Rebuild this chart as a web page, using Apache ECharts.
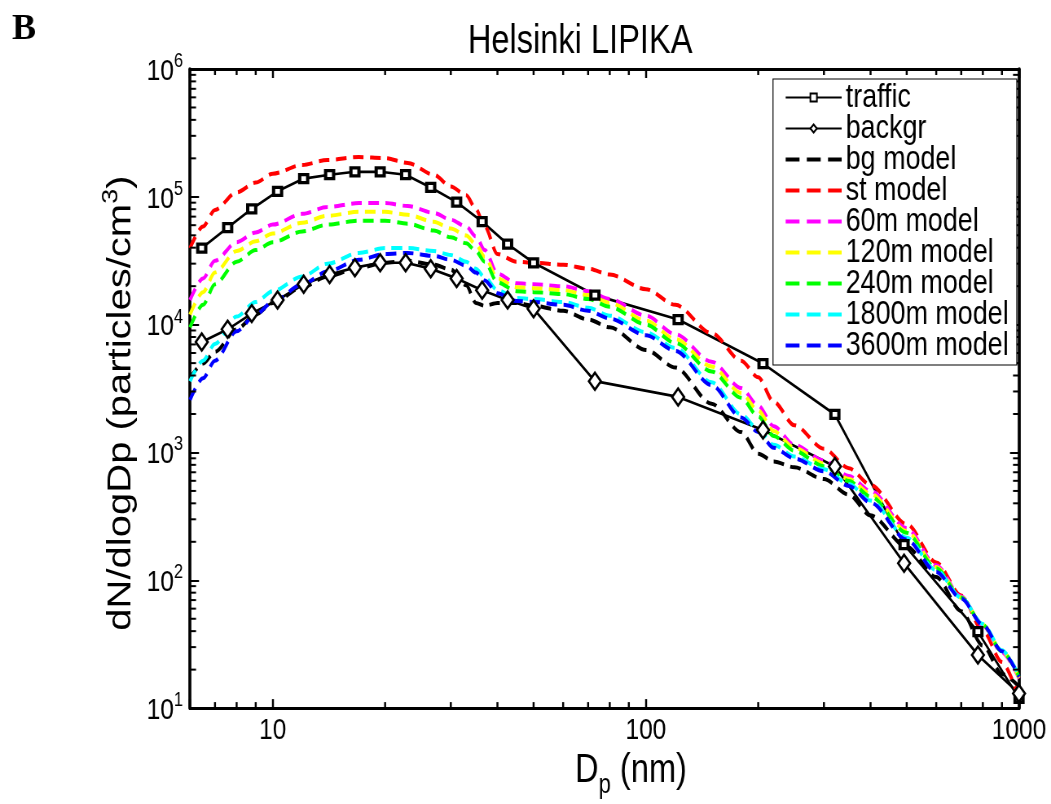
<!DOCTYPE html>
<html>
<head>
<meta charset="utf-8">
<script src="https://cdn.jsdelivr.net/npm/echarts@6/dist/echarts.min.js"></script>
<style>
html,body{margin:0;padding:0;background:#fff;width:1051px;height:804px;overflow:hidden}
#c{width:1290px;height:804px;transform:scaleX(0.81473);transform-origin:0 0}
</style>
</head>
<body>
<div id="c"></div>
<script>
// ---- measured data (diameter in nm, dN/dlogDp in particles/cm3) ----
const dpMeas  = [6.45, 7.57, 8.78, 10.3, 12.1, 14.2, 16.6, 19.4, 22.7, 26.5, 31.1, 36.4, 42.6, 50.0, 73.0, 122, 206, 321, 492, 776, 1000];
const traffic = [39700, 57490, 80350, 110400, 138800, 148900, 157000, 157000, 148900, 118400, 90910, 63900, 42590, 30480, 17030, 10960, 4958, 1982, 190, 39.6, 11.9];
const backgr  = [7310, 9190, 12200, 15600, 20700, 24700, 27900, 30500, 30500, 27400, 23000, 18600, 15600, 13300, 3610, 2720, 1500, 778, 136, 26, 13];

// ---- model curves ----
const dpModel = [6, 6.5, 7, 8, 9, 10, 12, 14, 17, 20, 23, 27, 30, 33, 35, 37, 40, 45, 50, 60, 70, 80, 100, 120, 150, 180, 200, 220, 250, 300, 350, 400, 500, 600, 700, 800, 900, 1000];
const bgModel = [3805, 4958, 6126, 9189, 11970, 14790, 19610, 23810, 27900, 30480, 31570, 29420, 26940, 20320, 14790, 14030, 14790, 14790, 14030, 12840, 10960, 9520, 6346, 4618, 2406, 1443, 979, 850, 765, 619, 467, 322, 183, 106, 57.3, 30.9, 18.5, 14.7];
const stModel = [39700, 58510, 78970, 108400, 129300, 151600, 177700, 194100, 204600, 201000, 184000, 148900, 120600, 102900, 80350, 58510, 35710, 31020, 30480, 29420, 27420, 24660, 18940, 14280, 8564, 5226, 3873, 2492, 1633, 1069, 752, 557, 275, 138, 76, 40.3, 22.9, 11.9];
const m60     = [15590, 22980, 31570, 44130, 52630, 60600, 73600, 83260, 89330, 89330, 84720, 74900, 66200, 58510, 49060, 38320, 25100, 21040, 20680, 19960, 18280, 15870, 11760, 8414, 5135, 3190, 2323, 1604, 1147, 865, 653, 501, 256, 131, 74.6, 44, 27.3, 17];
const m120    = [11970, 17960, 25550, 37650, 44920, 51710, 62810, 71030, 76250, 76250, 72310, 63900, 56480, 49920, 42590, 33880, 22980, 19610, 19270, 18600, 17030, 14790, 10770, 7702, 4700, 2921, 2127, 1469, 1088, 821, 619, 475, 243, 127, 73.3, 44.8, 27.8, 17.3];
const m240    = [9520, 14280, 20680, 31020, 38320, 44130, 53560, 60600, 65050, 65050, 61690, 54530, 48190, 43370, 37650, 31020, 21420, 18280, 17960, 17340, 15870, 13790, 10030, 7178, 4305, 2674, 1913, 1345, 1032, 779, 598, 451, 235, 124, 73.3, 44.8, 27.8, 17.6];
const m1800   = [3609, 5226, 7054, 11560, 15050, 18280, 23810, 29940, 36350, 39700, 39700, 37650, 35100, 31020, 27420, 23400, 18600, 16160, 15870, 15050, 13540, 11760, 8717, 6575, 3546, 1982, 1521, 1147, 929, 738, 567, 420, 215, 120, 73.3, 45.5, 28.3, 17.9];
const m3600   = [2581, 3805, 5226, 8869, 11970, 15050, 20680, 26000, 32130, 35710, 36350, 34480, 32130, 28900, 25550, 22190, 17640, 15320, 15050, 14280, 12840, 11160, 8267, 6235, 3364, 1879, 1443, 1088, 897, 713, 547, 405, 208, 116, 72, 44.8, 27.8, 17.6];

const seriesNames = ['traffic', 'backgr', 'bg model', 'st model', '60m model', '120m model', '240m model', '1800m model', '3600m model'];
const xTickLabels = ['10', '100', '1000'];
const yTickExponents = ['1', '2', '3', '4', '5', '6'];

const X_MIN = 6, X_MAX = 1000, Y_MIN = 10, Y_MAX = 1e6;

// The page is drawn 1290 px wide and squeezed horizontally to 1051 px (like the
// reference, whose lettering is horizontally compressed); S converts screen px.
const S = 0.81473;
const FONT = "'Liberation Sans',Arial,Helvetica,sans-serif";

function pairs(xs, ys) { return xs.map((x, i) => [x, ys[i]]); }
function isDecade(v) { const e = Math.log10(v); return Math.abs(e - Math.round(e)) < 1e-6; }

// minor tick positions (2..9 within each decade)
const minorX = [];
[1, 10, 100].forEach(d => { for (let k = 2; k <= 9; k++) { const v = k * d; if (v > X_MIN && v < X_MAX) minorX.push([v, Y_MIN]); } });
const minorY = [];
[10, 100, 1000, 10000, 100000].forEach(d => { for (let k = 2; k <= 9; k++) minorY.push([X_MIN, k * d]); });

function measSeries(name, data, symbol, size, bw) {
  return {
    name, type: 'line', data: pairs(dpMeas, data), symbol, symbolSize: size, showSymbol: true,
    lineStyle: { color: '#000', width: 2.7 },
    itemStyle: { color: '#fff', borderColor: '#000', borderWidth: bw },
    emphasis: { disabled: true }, z: 3
  };
}
function modelSeries(name, data, color) {
  return {
    name, type: 'line', data: pairs(dpModel, data), symbol: 'none', showSymbol: false,
    smooth: 0.3, smoothMonotone: 'x',
    lineStyle: { color, width: 4, type: [13, 8] },
    itemStyle: { color },
    emphasis: { disabled: true }, z: 3
  };
}

const legendData = seriesNames.map((n, i) => i < 2 ? { name: n } : { name: n, itemStyle: { opacity: 0 }, lineStyle: { type: [17, 9], width: 4 } });

const xTick = { color: '#000', width: 2 / S };
const yTick = { color: '#000', width: 2 };

const chart = echarts.init(document.getElementById('c'), null, { renderer: 'canvas' });
chart.setOption({
  animation: false,
  backgroundColor: '#fff',
  title: [
    { text: 'Helsinki LIPIKA', left: 576 / S, top: 17, textAlign: 'center', textStyle: { fontFamily: FONT, fontWeight: 'normal', fontSize: 40, color: '#000' } }
  ],
  graphic: [
    { type: 'text', x: 12 / S, y: 12, scaleX: 1 / S, style: { text: 'B', fontFamily: "'Liberation Serif','Times New Roman',serif", fontWeight: 'bold', fontSize: 36, fill: '#000', verticalAlign: 'top' } }
  ],
  legend: {
    data: legendData, orient: 'vertical', left: 773 / S, top: 79,
    itemWidth: 56 / S, itemHeight: 10, itemGap: -2,
    padding: [2, 10, 3, 11 / S],
    borderColor: '#000', borderWidth: 1.2, backgroundColor: '#fff',
    selectedMode: false,
    textStyle: { fontFamily: FONT, fontSize: 33, color: '#000', lineHeight: 31 },
    z: 10
  },
  grid: { left: 190 / S, right: 32 / S, top: 69, bottom: 82, containLabel: false },
  xAxis: [
    {
      type: 'log', logBase: 10, min: X_MIN, max: X_MAX, position: 'bottom',
      axisLine: { show: true, onZero: false, lineStyle: { color: '#000', width: 3 } },
      axisTick: { inside: true, length: 9, lineStyle: xTick },
      splitLine: { show: false },
      axisLabel: {
        color: '#000', fontFamily: FONT, fontSize: 30, margin: 8,
        formatter: v => { if (!isDecade(v)) return ''; const s = String(Math.round(v)); return xTickLabels.includes(s) ? s : ''; }
      },
      name: '{a|D}{p|p}{a| (nm)}', nameLocation: 'middle', nameGap: 30,
      nameTextStyle: {
        padding: [0, 0, 0, 65],
        rich: {
          a: { fontFamily: FONT, fontSize: 40, color: '#000', verticalAlign: 'top', lineHeight: 42 },
          p: { fontFamily: FONT, fontSize: 27, color: '#000', verticalAlign: 'top', padding: [21, 0, 0, 0] }
        }
      }
    },
    {
      type: 'log', logBase: 10, min: X_MIN, max: X_MAX, position: 'top',
      axisLine: { show: true, onZero: false, lineStyle: { color: '#000', width: 3 } },
      axisTick: { inside: true, length: 9, lineStyle: xTick },
      splitLine: { show: false }, axisLabel: { show: false }
    }
  ],
  yAxis: [
    {
      type: 'log', logBase: 10, min: Y_MIN, max: Y_MAX, position: 'left',
      axisLine: { show: true, onZero: false, lineStyle: { color: '#000', width: 3 / S } },
      axisTick: { inside: true, length: 9 / S, lineStyle: yTick },
      splitLine: { show: false },
      axisLabel: {
        margin: 7 / S,
        formatter: v => { if (!isDecade(v)) return ''; const e = String(Math.round(Math.log10(v))); return yTickExponents.includes(e) ? '{b|10}{s|' + e + '}' : ''; },
        rich: {
          b: { fontFamily: FONT, fontSize: 30, color: '#000', verticalAlign: 'bottom' },
          s: { fontFamily: FONT, fontSize: 20, color: '#000', verticalAlign: 'bottom', padding: [0, 0, 15, 0] }
        }
      },
      name: '{a|dN/dlogDp (particles/cm}{s|3}{a|)}', nameLocation: 'middle', nameRotate: 90, nameGap: 51,
      nameTextStyle: {
        padding: [0, 29, 0, 0],
        rich: {
          a: { fontFamily: FONT, fontSize: 40, color: '#000', verticalAlign: 'bottom' },
          s: { fontFamily: FONT, fontSize: 27, color: '#000', verticalAlign: 'bottom', padding: [0, 0, 19, 0] }
        }
      }
    },
    {
      type: 'log', logBase: 10, min: Y_MIN, max: Y_MAX, position: 'right',
      axisLine: { show: true, onZero: false, lineStyle: { color: '#000', width: 3 / S } },
      axisTick: { inside: true, length: 9 / S, lineStyle: yTick },
      splitLine: { show: false }, axisLabel: { show: false }
    }
  ],
  series: [
    measSeries('traffic', traffic, 'rect', [8 / S, 8], 3.6),
    measSeries('backgr', backgr, 'diamond', [12 / S, 17], 2.6),
    modelSeries('bg model', bgModel, '#000000'),
    modelSeries('st model', stModel, '#ff0000'),
    modelSeries('60m model', m60, '#ff00ff'),
    modelSeries('120m model', m120, '#ffff00'),
    modelSeries('240m model', m240, '#00ff00'),
    modelSeries('1800m model', m1800, '#00ffff'),
    modelSeries('3600m model', m3600, '#0000ff'),
    {
      type: 'custom', coordinateSystem: 'cartesian2d', data: minorX, silent: true, clip: false, z: 6,
      renderItem: (params, api) => {
        const v = api.value(0);
        const b = api.coord([v, Y_MIN]), t = api.coord([v, Y_MAX]);
        const st = { stroke: '#000', lineWidth: 2 / S };
        return { type: 'group', children: [
          { type: 'line', shape: { x1: b[0], y1: b[1], x2: b[0], y2: b[1] - 6 }, style: st },
          { type: 'line', shape: { x1: t[0], y1: t[1], x2: t[0], y2: t[1] + 6 }, style: st }
        ] };
      }
    },
    {
      type: 'custom', coordinateSystem: 'cartesian2d', data: minorY, silent: true, clip: false, z: 6,
      renderItem: (params, api) => {
        const v = api.value(1);
        const l = api.coord([X_MIN, v]), r = api.coord([X_MAX, v]);
        const st = { stroke: '#000', lineWidth: 2 };
        return { type: 'group', children: [
          { type: 'line', shape: { x1: l[0], y1: l[1], x2: l[0] + 6 / S, y2: l[1] }, style: st },
          { type: 'line', shape: { x1: r[0], y1: r[1], x2: r[0] - 6 / S, y2: r[1] }, style: st }
        ] };
      }
    }
  ]
});
</script>
</body>
</html>
